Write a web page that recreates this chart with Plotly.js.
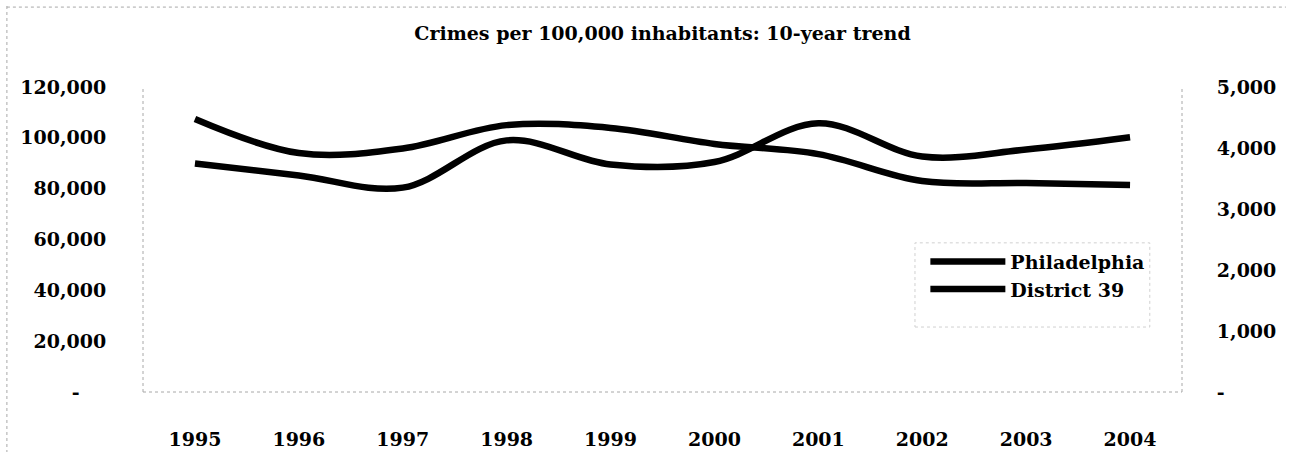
<!DOCTYPE html>
<html>
<head>
<meta charset="utf-8">
<script src="https://cdn.plot.ly/plotly-3.0.1.min.js"></script>
<style>
  html, body { margin: 0; padding: 0; background: #ffffff; }
  #chart { width: 1293px; height: 452px; }
</style>
</head>
<body>
<div id="chart"></div>
<script>
// Years on the category axis
const years = ['1995', '1996', '1997', '1998', '1999', '2000', '2001', '2002', '2003', '2004'];

// Philadelphia (left axis)
const philadelphia = [107400, 94000, 95800, 105000, 103900, 97600, 93600, 83000, 82200, 81400];

// District 39 (right axis)
const district39 = [3745, 3550, 3350, 4125, 3730, 3770, 4405, 3860, 3975, 4175];

// Axis ticks (zero shown as a dash, accounting style)
const leftTickVals = [0, 20000, 40000, 60000, 80000, 100000, 120000];
const leftTickText = ['-\u00a0\u00a0\u00a0\u00a0', '20,000', '40,000', '60,000', '80,000', '100,000', '120,000'];
const rightTickVals = [0, 1000, 2000, 3000, 4000, 5000];
const rightTickText = ['-', '1,000', '2,000', '3,000', '4,000', '5,000'];

const titleText = 'Crimes per 100,000 inhabitants: 10-year trend';

const serifBold = { family: 'DejaVu Serif', size: 19, color: '#000000', weight: 'bold' };
const dotGrey = '#a8a8a8';
const clear = 'rgba(0,0,0,0)';

const traces = [
  {
    type: 'scatter', mode: 'lines', name: 'Philadelphia',
    x: years, y: philadelphia, yaxis: 'y', legendgroup: 'a',
    line: { color: '#000000', width: 6.5, shape: 'spline', smoothing: 1 }
  },
  {
    type: 'scatter', mode: 'lines', name: 'District 39',
    x: years, y: district39, yaxis: 'y2', legendgroup: 'b',
    line: { color: '#000000', width: 6.5, shape: 'spline', smoothing: 1 }
  }
];

// Light dotted frame pieces: plot axes, legend box and the outer border
const dotted = (x0, y0, x1, y1, type) => ({
  type: type || 'line', xref: 'paper', yref: 'paper',
  x0: x0, y0: y0, x1: x1, y1: y1,
  line: { color: dotGrey, width: 1, dash: 'dot' }, layer: 'below'
});

const shapes = [
  dotted(0, 0, 0, 1),
  dotted(1, 0, 1, 1),
  dotted(0, 0, 1, 0),
  Object.assign(dotted(0.743, 0.213, 0.969, 0.489, 'rect'), { line: { color: '#d0d0d0', width: 1, dash: 'dot' } }),
  dotted(-0.131, -0.2, -0.131, 1.27),
  dotted(-0.131, 1.262, 1.1, 1.262)
];

const layout = {
  width: 1293, height: 452,
  paper_bgcolor: '#ffffff', plot_bgcolor: '#ffffff',
  margin: { l: 143, r: 111, t: 87, b: 60, pad: 0 },
  title: {
    text: titleText,
    font: { family: 'DejaVu Serif', size: 19, color: '#000000', weight: 'bold' },
    x: 0.5, xanchor: 'center', xref: 'paper',
    y: 1 - 33 / 452, yanchor: 'middle', yref: 'container'
  },
  showlegend: true,
  legend: {
    x: 0.753, xanchor: 'left', y: 0.49, yanchor: 'top',
    font: serifBold, bgcolor: clear, borderwidth: 0,
    itemwidth: 75, tracegroupgap: 14, traceorder: 'normal'
  },
  shapes: shapes,
  xaxis: {
    type: 'category', categoryorder: 'array', categoryarray: years,
    range: [-0.5, 9.5],
    showgrid: false, zeroline: false, showline: false,
    ticks: 'outside', ticklen: 30, tickcolor: clear,
    tickfont: serifBold, fixedrange: true
  },
  yaxis: {
    range: [0, 120000], tickvals: leftTickVals, ticktext: leftTickText,
    showgrid: false, zeroline: false, showline: false,
    ticks: 'outside', ticklen: 32, tickcolor: clear,
    tickfont: serifBold, fixedrange: true
  },
  yaxis2: {
    range: [0, 5000], tickvals: rightTickVals, ticktext: rightTickText,
    overlaying: 'y', side: 'right', anchor: 'x',
    showgrid: false, zeroline: false, showline: false,
    ticks: 'outside', ticklen: 30, tickcolor: clear,
    tickfont: serifBold, fixedrange: true
  }
};

Plotly.newPlot('chart', traces, layout, { staticPlot: true, displayModeBar: false });
</script>
</body>
</html>
